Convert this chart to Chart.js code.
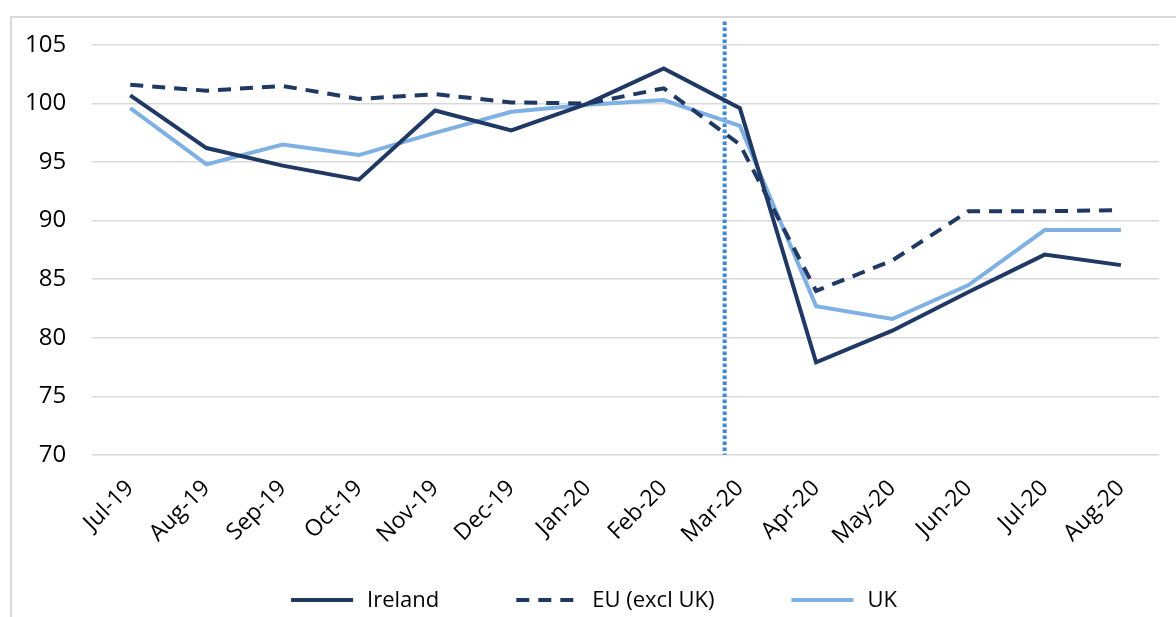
<!DOCTYPE html>
<html>
<head>
<meta charset="utf-8">
<script src="https://cdn.jsdelivr.net/npm/chart.js@4.4.0/dist/chart.umd.min.js"></script>
<style>
    html, body { margin: 0; padding: 0; background: #fff; }
    .frame {
        position: absolute;
        left: 10px;
        top: 16px;
        width: 1166px;
        height: 601px;
        border-left: 2px solid #d9d9d9;
        border-top: 2px solid #d9d9d9;
    }
    .frame canvas { display: block; }
</style>
</head>
<body>
<div class="frame">
    <canvas id="chart" width="1164" height="599"></canvas>
</div>
<script>
// ============================================
// DATOS
// ============================================

const months = ['Jul-19', 'Aug-19', 'Sep-19', 'Oct-19', 'Nov-19', 'Dec-19', 'Jan-20',
    'Feb-20', 'Mar-20', 'Apr-20', 'May-20', 'Jun-20', 'Jul-20', 'Aug-20'];

const ireland = [100.7, 96.2, 94.7, 93.5, 99.4, 97.7, 100.0, 103.0, 99.6, 77.9, 80.6, 83.9, 87.1, 86.2];
const euExclUk = [101.6, 101.1, 101.5, 100.4, 100.8, 100.1, 100.0, 101.3, 96.5, 84.0, 86.6, 90.8, 90.8, 90.9];
const uk = [99.6, 94.8, 96.5, 95.6, 97.5, 99.3, 99.9, 100.3, 98.1, 82.7, 81.6, 84.5, 89.2, 89.2];

const yTicks = [70, 75, 80, 85, 90, 95, 100, 105];

// posición del marcador vertical (entre Feb-20 y Mar-20) y su altura
const markerIndex = 7.8;
const markerTop = 107;

const FONT = "'Open Sans', sans-serif";
const NAVY = '#203864';
const LIGHT = '#7fb0e4';

// ============================================
// PLUGINS
// ============================================

const markerLine = {
    id: 'markerLine',
    beforeDatasetsDraw(chart) {
        const { ctx, scales: { x, y } } = chart;
        const px = x.getPixelForValue(markerIndex);
        ctx.save();
        ctx.strokeStyle = '#3c87d8';
        ctx.lineWidth = 4;
        ctx.setLineDash([3.5, 2.5]);
        ctx.beginPath();
        ctx.moveTo(px, y.getPixelForValue(markerTop));
        ctx.lineTo(px, y.getPixelForValue(yTicks[0]));
        ctx.stroke();
        ctx.restore();
    }
};

const bottomLegend = {
    id: 'bottomLegend',
    afterDraw(chart) {
        const { ctx } = chart;
        const sample = 62;
        const gap = 14;
        const spacing = 77;
        const cy = chart.height - 17;
        ctx.save();
        ctx.font = '22px ' + FONT;
        ctx.textBaseline = 'middle';
        const widths = chart.data.datasets.map(ds => sample + gap + ctx.measureText(ds.label).width);
        const total = widths.reduce((a, b) => a + b, 0) + spacing * (widths.length - 1);
        let cx = (chart.width - total) / 2;
        chart.data.datasets.forEach((ds, i) => {
            ctx.strokeStyle = ds.borderColor;
            ctx.lineWidth = ds.borderWidth;
            ctx.setLineDash(ds.borderDash || []);
            ctx.beginPath();
            ctx.moveTo(cx, cy);
            ctx.lineTo(cx + sample, cy);
            ctx.stroke();
            ctx.setLineDash([]);
            ctx.fillStyle = '#000';
            ctx.fillText(ds.label, cx + sample + gap, cy + 1);
            cx += widths[i] + spacing;
        });
        ctx.restore();
    }
};

// ============================================
// GRÁFICO
// ============================================

new Chart(document.getElementById('chart'), {
    type: 'line',
    data: {
        labels: months,
        datasets: [
            {
                label: 'Ireland',
                data: ireland,
                borderColor: NAVY,
                borderWidth: 4,
                pointRadius: 0,
                tension: 0
            },
            {
                label: 'EU (excl UK)',
                data: euExclUk,
                borderColor: NAVY,
                borderWidth: 4,
                borderDash: [13, 9],
                pointRadius: 0,
                tension: 0
            },
            {
                label: 'UK',
                data: uk,
                borderColor: LIGHT,
                borderWidth: 4,
                pointRadius: 0,
                tension: 0
            }
        ]
    },
    options: {
        responsive: false,
        animation: false,
        layout: {
            padding: { left: -13, right: 17, top: 27, bottom: 55 }
        },
        plugins: {
            legend: { display: false },
            tooltip: { enabled: false }
        },
        scales: {
            x: {
                offset: true,
                grid: { display: false },
                border: { display: false },
                ticks: {
                    color: '#000',
                    font: { family: FONT, size: 23 },
                    minRotation: 45,
                    maxRotation: 45,
                    padding: 12,
                    autoSkip: false
                }
            },
            y: {
                min: yTicks[0],
                max: yTicks[yTicks.length - 1],
                afterBuildTicks(axis) {
                    axis.ticks = yTicks.map(v => ({ value: v }));
                },
                afterFit(axis) {
                    // el padding de las etiquetas no debe empujar el área hacia abajo
                    axis.paddingTop = 15;
                    axis.paddingBottom = 15;
                },
                grid: { color: '#d9d9d9', lineWidth: 1.5, drawTicks: false },
                border: { display: false },
                ticks: {
                    color: '#000',
                    font: { family: FONT, size: 24 },
                    padding: 26
                }
            }
        }
    },
    plugins: [markerLine, bottomLegend]
});
</script>
</body>
</html>
